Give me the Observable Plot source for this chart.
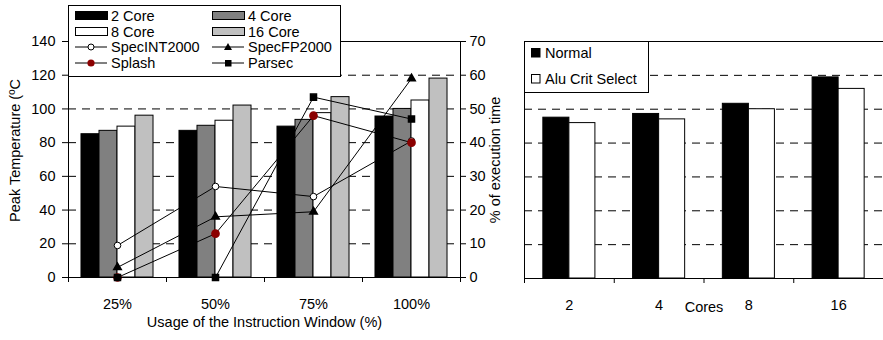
<!DOCTYPE html>
<html>
<head>
<meta charset="utf-8">
<script src="https://cdn.jsdelivr.net/npm/d3@7"></script>
<script src="https://cdn.jsdelivr.net/npm/@observablehq/plot@0.6"></script>
<style>
  body { margin: 0; background: white; font-family: "Liberation Sans", Arial, sans-serif; }
  #wrap { position: relative; width: 883px; height: 340px; overflow: hidden; background: white; }
  .legend { position: absolute; background: white; border: 1px solid black; box-sizing: border-box; font-size: 14.5px; color: black; }
  .item { position: absolute; display: flex; align-items: center; height: 16px; white-space: nowrap; }
  .item svg { display: block; }
</style>
</head>
<body>
<div id="wrap"></div>
<script>
// ---------- Data: left chart ----------
const usage = ["25%", "50%", "75%", "100%"];
const coreSeries = ["2 Core", "4 Core", "8 Core", "16 Core"];
const core2 = [85, 87, 89.5, 95.5];
const core4 = [87, 90, 93.5, 100];
const core8 = [89.5, 93, 97.5, 105];
const core16 = [96, 102, 107, 118];
const tempTicks = [0, 20, 40, 60, 80, 100, 120, 140];

const lineSeries = ["SpecINT2000", "SpecFP2000", "Splash", "Parsec"];
const specInt = [9.5, 27, 24, 40.5];
const specFp = [3, 18, 19.5, 59];
const splash = [0, 13, 48, 40];
const parsec = [0, 0, 53.5, 47];

// ---------- Data: right chart ----------
const cores = ["2", "4", "8", "16"];
const rightSeries = ["Normal", "Alu Crit Select"];
const normal = [47.5, 48.6, 51.6, 59.4];
const aluCrit = [45.9, 47.0, 50.0, 56.0];
const pctTicks = [0, 10, 20, 30, 40, 50, 60, 70];

// ---------- Styles ----------
const coreFills = ["#000000", "#808080", "#ffffff", "#c0c0c0"];
const rightFills = ["#000000", "#ffffff"];
const splashRed = "#8b0000";
const font = {fontFamily: "'Liberation Sans', Arial, sans-serif", fontSize: "14.5px", color: "black", background: "transparent", overflow: "visible"};

// ---------- Left chart rows ----------
const coreValues = [core2, core4, core8, core16];
const groupW = 0.735, barW = groupW / coreSeries.length;
const barRows = [];
usage.forEach((u, i) => coreSeries.forEach((s, k) => {
  const x1 = i + (1 - groupW) / 2 + k * barW;
  barRows.push({usage: u, series: s, value: coreValues[k][i], x1, x2: x1 + barW});
}));
const lineValues = [specInt, specFp, splash, parsec];
const lineRows = [];
lineSeries.forEach((s, k) => usage.forEach((u, i) => {
  lineRows.push({series: s, usage: u, xc: i + 0.5, pct: lineValues[k][i]});
}));
const bySeries = s => lineRows.filter(d => d.series === s);

const leftPlot = Plot.plot({
  width: 490, height: 340,
  marginLeft: 68, marginRight: 30, marginTop: 41, marginBottom: 63,
  x: {type: "linear", domain: [0, usage.length], axis: null},
  y: {domain: [0, 140], axis: null},
  color: {domain: coreSeries, range: coreFills},
  style: font,
  marks: [
    Plot.ruleY(tempTicks.filter(t => t > 0 && t < 140), {stroke: "black", strokeDasharray: "8,6"}),
    Plot.rect(barRows, {x1: "x1", x2: "x2", y1: 0, y2: "value", fill: "series", stroke: "black", strokeWidth: 1}),
    Plot.line(lineRows, {x: "xc", y: d => d.pct * 2, z: "series", stroke: "black", strokeWidth: 1}),
    Plot.dot(bySeries("SpecINT2000"), {x: "xc", y: d => d.pct * 2, r: 3.3, fill: "white", stroke: "black", strokeWidth: 1}),
    Plot.dot(bySeries("SpecFP2000"), {x: "xc", y: d => d.pct * 2, symbol: "triangle", r: 2.8, fill: "black", stroke: "black"}),
    Plot.dot(bySeries("Splash"), {x: "xc", y: d => d.pct * 2, r: 3.6, fill: splashRed, stroke: splashRed}),
    Plot.dot(bySeries("Parsec"), {x: "xc", y: d => d.pct * 2, symbol: "square", r: 3.4, fill: "black", stroke: "black"}),
    Plot.frame({stroke: "black"}),
    Plot.axisY({ticks: tempTicks, tickSize: 6, tickPadding: 7, label: null}),
    Plot.axisY({anchor: "right", ticks: tempTicks, tickFormat: d => d / 2, tickSize: 5, tickPadding: 4, label: null}),
    Plot.axisX({ticks: usage.map((_, i) => i).concat([usage.length]), tickFormat: () => "", tickSize: 5, label: null}),
    Plot.axisX({ticks: usage.map((_, i) => i + 0.5), tickFormat: d => usage[Math.floor(d)], tickSize: 0, tickPadding: 21, label: null}),
    Plot.text(["Usage of the Instruction Window (%)"], {frameAnchor: "bottom", dy: 45, lineAnchor: "middle", fill: "black"}),
    Plot.text(["Peak Temperature (ºC"], {frameAnchor: "left", rotate: -90, dx: -53, dy: -9, textAnchor: "middle", fill: "black"})
  ]
});

// ---------- Right chart rows ----------
const rightValues = [normal, aluCrit];
const rGroupW = 0.58, rBarW = rGroupW / rightSeries.length;
const rightRows = [];
cores.forEach((c, i) => rightSeries.forEach((s, k) => {
  const x1 = i + (1 - rGroupW) / 2 + k * rBarW;
  rightRows.push({cores: c, series: s, value: rightValues[k][i], x1, x2: x1 + rBarW});
}));

const rightPlot = Plot.plot({
  width: 393, height: 340,
  marginLeft: 34, marginRight: 0, marginTop: 41, marginBottom: 62,
  x: {type: "linear", domain: [0, cores.length], axis: null},
  y: {domain: [0, 70], axis: null},
  color: {domain: rightSeries, range: rightFills},
  style: font,
  marks: [
    Plot.ruleY(pctTicks.filter(t => t > 0 && t < 70), {stroke: "black", strokeDasharray: "8,6"}),
    Plot.rect(rightRows, {x1: "x1", x2: "x2", y1: 0, y2: "value", fill: "series", stroke: "black", strokeWidth: 1}),
    Plot.ruleY([0, 70], {stroke: "black"}),
    Plot.ruleX([0], {stroke: "black"}),
    Plot.axisX({ticks: cores.map((_, i) => i), tickFormat: () => "", tickSize: 5, label: null}),
    Plot.axisX({ticks: cores.map((_, i) => i + 0.5), tickFormat: d => cores[Math.floor(d)], tickSize: 0, tickPadding: 21, label: null}),
    Plot.text(["Cores"], {frameAnchor: "bottom", dy: 29, lineAnchor: "middle", fill: "black"}),
    Plot.text(["% of execution time"], {frameAnchor: "left", rotate: -90, dx: -29, textAnchor: "middle", fill: "black"})
  ]
});

const wrap = document.getElementById("wrap");
leftPlot.style.left = "0px";
rightPlot.style.left = "490px";
leftPlot.style.top = "0px";
rightPlot.style.top = "0px";
leftPlot.style.position = "absolute";
rightPlot.style.position = "absolute";
wrap.appendChild(leftPlot);
wrap.appendChild(rightPlot);

// ---------- Legends (HTML overlay) ----------
function swatchRect(fill) {
  return `<svg width="33" height="10"><rect x="0.5" y="0.5" width="32" height="8" fill="${fill}" stroke="black"/></svg>`;
}
function swatchLine(kind) {
  let m = "";
  if (kind === "SpecINT2000") m = `<circle cx="16" cy="5" r="3" fill="white" stroke="black"/>`;
  if (kind === "Splash") m = `<circle cx="16" cy="5" r="3.6" fill="${splashRed}"/>`;
  if (kind === "SpecFP2000") m = `<path d="M16,1 L20,8 L12,8 Z" fill="black"/>`;
  if (kind === "Parsec") m = `<rect x="13" y="2" width="6.5" height="6.5" fill="black"/>`;
  return `<svg width="33" height="10"><line x1="0" y1="5" x2="32" y2="5" stroke="black"/>${m}</svg>`;
}
const leg1 = document.createElement("div");
leg1.className = "legend";
Object.assign(leg1.style, {left: "68px", top: "5px", width: "273px", height: "72px"});
const legItems = [
  ...coreSeries.map((s, k) => ({label: s, sw: swatchRect(coreFills[k])})),
  ...lineSeries.map(s => ({label: s, sw: swatchLine(s)}))
];
legItems.forEach((it, j) => {
  const row = Math.floor(j / 2), col = j % 2;
  const d = document.createElement("div");
  d.className = "item";
  d.style.left = (col === 0 ? 6 : 143) + "px";
  d.style.top = (2 + row * 15.5) + "px";
  d.innerHTML = it.sw + `<span style="margin-left:3px">${it.label}</span>`;
  leg1.appendChild(d);
});
wrap.appendChild(leg1);

const leg2 = document.createElement("div");
leg2.className = "legend";
Object.assign(leg2.style, {left: "524px", top: "41px", width: "125px", height: "52px"});
rightSeries.forEach((s, k) => {
  const d = document.createElement("div");
  d.className = "item";
  d.style.left = "6px";
  d.style.top = (3 + k * 26) + "px";
  d.innerHTML = `<svg width="10" height="10"><rect x="0.5" y="0.5" width="8.5" height="8.5" fill="${rightFills[k]}" stroke="black"/></svg><span style="margin-left:4px">${s}</span>`;
  leg2.appendChild(d);
});
wrap.appendChild(leg2);
</script>
</body>
</html>
